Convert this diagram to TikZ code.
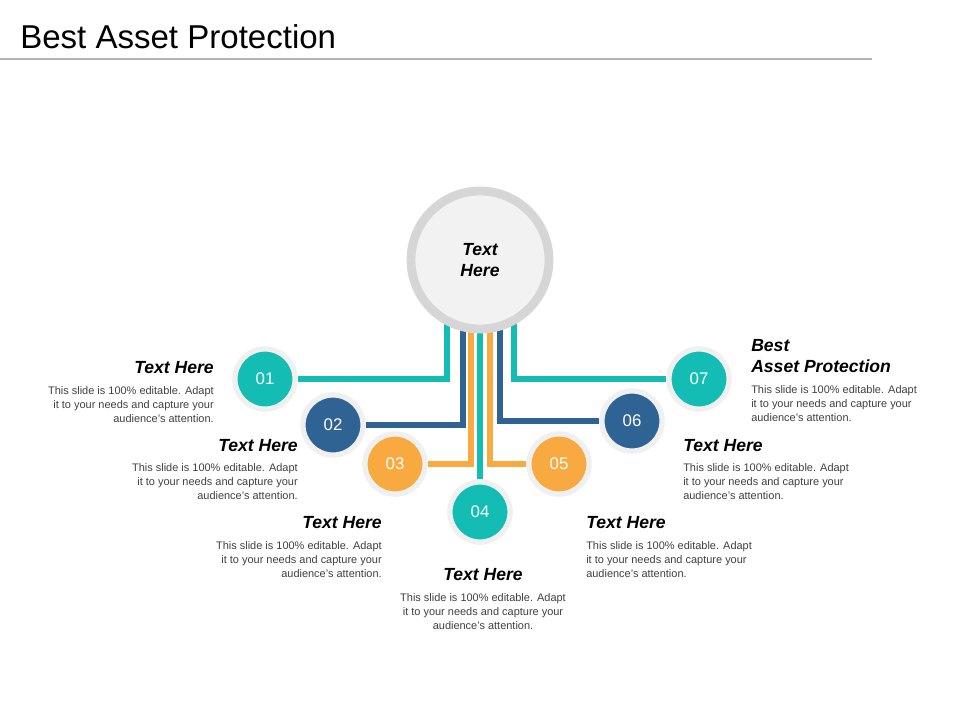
\documentclass[tikz,border=0pt]{standalone}
\usepackage{fontspec}
\setmainfont{Liberation Sans}
\definecolor{tealc}{HTML}{14BDB3}
\definecolor{bluec}{HTML}{2F6394}
\definecolor{orangec}{HTML}{F8A93F}
\definecolor{ringc}{HTML}{D6D6D6}
\tikzset{
  dot/.style={circle, minimum size=60*0.25mm, inner sep=0pt, text=white,
    font=\fontsize{12}{14}\selectfont, draw=white!94!black, line width=1.3mm},
  wire/.style={line width=1.5mm},
  head/.style={font=\fontsize{12.5}{15}\selectfont\bfseries\itshape, inner sep=0pt},
  body/.style={font=\fontsize{7.8}{10}\selectfont, text=black!75, inner sep=0pt}
}
\begin{document}
\begin{tikzpicture}[x=0.25mm, y=-0.25mm]
\useasboundingbox (0,0) rectangle (960,720);
\node[anchor=west, font=\fontsize{23.5}{28}\selectfont, inner sep=0pt] (title) at (20,37) {Best Asset Protection};
\draw[black!30, line width=0.6mm] (0,59) -- (872,59);

% connector tops
\coordinate (t1) at (447,320);
\coordinate (t2) at (463,320);
\coordinate (t3) at (471,320);
\coordinate (t4) at (480,320);
\coordinate (t5) at (490,320);
\coordinate (t6) at (500,320);
\coordinate (t7) at (514,320);

\node[dot, fill=tealc] (n1) at (265,379) {01};
\node[dot, fill=bluec] (n2) at (333,425) {02};
\node[dot, fill=orangec] (n3) at (395,464) {03};
\node[dot, fill=tealc] (n4) at (480,512) {04};
\node[dot, fill=orangec] (n5) at (559,464) {05};
\node[dot, fill=bluec] (n6) at (632,421) {06};
\node[dot, fill=tealc] (n7) at (699,379) {07};

\begin{scope}[on background layer/.style={}]
\draw[wire, tealc] (t1) |- (n1);
\draw[wire, bluec] (t2) |- (n2);
\draw[wire, orangec] (t3) |- (n3);
\draw[wire, tealc] (t4) -- (n4);
\draw[wire, orangec] (t5) |- (n5);
\draw[wire, bluec] (t6) |- (n6);
\draw[wire, tealc] (t7) |- (n7);
\end{scope}
% redraw dots above wires
\foreach \n/\c/\x/\y/\t in {a/tealc/265/379/01, b/bluec/333/425/02, c/orangec/395/464/03,
  d/tealc/480/512/04, e/orangec/559/464/05, f/bluec/632/421/06, g/tealc/699/379/07}
  \node[dot, fill=\c] (m\n) at (\x,\y) {\t};

\node[circle, minimum size=138*0.25mm, fill=black!5, draw=ringc, line width=2.2mm,
  font=\fontsize{12.5}{15.5}\selectfont\bfseries\itshape, align=center] (hub) at (480,260) {Text\\Here};

% texts
\node[head, anchor=east] (h1) at (214,368) {Text Here};
\node[body, anchor=north east, align=right] (b1) at (214,386) {This slide is 100\% editable. Adapt\\it to your needs and capture your\\audience's attention.};
\node[head, anchor=east] (h2) at (298,446) {Text Here};
\node[body, anchor=north east, align=right] (b2) at (298,463) {This slide is 100\% editable. Adapt\\it to your needs and capture your\\audience's attention.};
\node[head, anchor=east] (h3) at (382,523) {Text Here};
\node[body, anchor=north east, align=right] (b3) at (382,541) {This slide is 100\% editable. Adapt\\it to your needs and capture your\\audience's attention.};
\node[head] (h4) at (483,575) {Text Here};
\node[body, anchor=north, align=center] (b4) at (483,593) {This slide is 100\% editable. Adapt\\it to your needs and capture your\\audience's attention.};
\node[head, anchor=west] (h5) at (586,523) {Text Here};
\node[body, anchor=north west, align=left] (b5) at (586,541) {This slide is 100\% editable. Adapt\\it to your needs and capture your\\audience's attention.};
\node[head, anchor=west] (h6) at (683,446) {Text Here};
\node[body, anchor=north west, align=left] (b6) at (683,463) {This slide is 100\% editable. Adapt\\it to your needs and capture your\\audience's attention.};
\node[head, anchor=west, align=left] (h7) at (751,356) {Best\\Asset Protection};
\node[body, anchor=north west, align=left] (b7) at (751,385) {This slide is 100\% editable. Adapt\\it to your needs and capture your\\audience's attention.};
\end{tikzpicture}
\end{document}
